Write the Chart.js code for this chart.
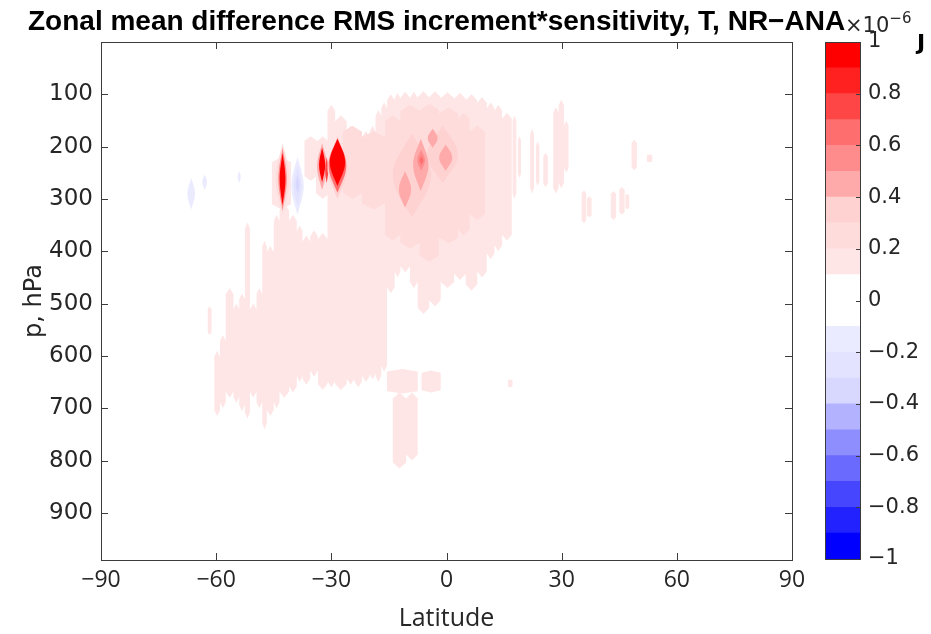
<!DOCTYPE html>
<html>
<head>
<meta charset="utf-8">
<script src="https://cdn.jsdelivr.net/npm/chart.js@4.4.1/dist/chart.umd.min.js"></script>
<style>
    body { margin: 0; background: #fff; }
    #wrap { position: relative; width: 931px; height: 634px; }
    canvas { position: absolute; top: 0; }
    #title { position: absolute; left: 28px; top: 5px; font: bold 28px "Liberation Sans", sans-serif; color: #000; white-space: nowrap; }
    #scale { position: absolute; left: 845px; top: 9px; font: 21px "DejaVu Sans", sans-serif; color: #262626; white-space: nowrap; }
    #scale sup { font-size: 15px; vertical-align: 9px; }
    #unit { position: absolute; left: 917px; top: 30px; font: bold 22px "DejaVu Sans", sans-serif; color: #000; }
</style>
</head>
<body>
<div id="wrap">
    <canvas id="main" width="931" height="634"></canvas>
    <canvas id="cbar" width="131" height="634" style="left:800px"></canvas>
    <div id="title">Zonal mean difference RMS increment*sensitivity, T, NR−ANA</div>
    <div id="scale">×10<sup>−6</sup></div>
    <div id="unit">J</div>
</div>
<script>
// axis ticks
const latTicks = [-90, -60, -30, 0, 30, 60, 90];
const presTicks = [100, 200, 300, 400, 500, 600, 700, 800, 900];
const cbTicks = [-1, -0.8, -0.6, -0.4, -0.2, 0, 0.2, 0.4, 0.6, 0.8, 1];

// contour level colours (lower edge 0, 0.1 ... 0.9 and 0, -0.1 ... -0.9)
const posColors = ['#ffffff', '#ffe6e6', '#ffdcdc', '#ffd2d2', '#ffaaaa', '#ff8c8c', '#ff6e6e', '#ff4646', '#ff2020', '#ff0000'];
const negColors = ['#ffffff', '#ebebff', '#e3e3ff', '#d8d8ff', '#b2b2ff', '#8e8eff', '#6a6aff', '#4646ff', '#2222ff', '#0000ff'];
const cbLower = [-1, -0.9, -0.8, -0.7, -0.6, -0.5, -0.4, -0.3, -0.2, -0.1, 0, 0.1, 0.2, 0.3, 0.4, 0.5, 0.6, 0.7, 0.8, 0.9];

// weak field, read as vertical streaks: latitude span, pressure span (hPa), value (1e-6 J)
const bandLat0 = [
    -62.2, -60.5, -59.0, -57.5, -55.5, -54.0, -52.5, -51.2, -49.5, -48.0, -46.8, -45.0, -43.5, -41.0, -39.0, -37.5, -35.5, -33.5,
    -45.5, -37.0, -34.0,
    -31.0, -29.0, -26.0, -24.0, -22.0, -20.0, -18.5, -17.0, -15.5, -13.5, -12.0, -9.5, -7.5, -4.5, -1.5, 2.0, 5.0, 8.0, 10.5, 12.5, 14.5,
    -15.5, -6.5, -14.0, -10.5, 16.0,
    17.2, 18.6, 21.8, 23.3, 25.2, 27.8, 29.2, 30.6, 35.2, 36.6, 42.8, 45.0, 46.6, 48.2, 52.2,
    -27.0, -22.0, -16.0, -12.0, -7.0, -2.0, 3.0, 6.0
];
const bandLat1 = [
    -61.2, -59.0, -57.5, -55.5, -54.0, -52.5, -51.2, -49.5, -48.0, -46.8, -45.0, -43.5, -41.0, -39.0, -37.5, -35.5, -33.5, -31.0,
    -40.5, -33.8, -30.5,
    -29.0, -26.0, -24.0, -22.0, -20.0, -18.5, -17.0, -15.5, -13.5, -12.0, -9.5, -7.5, -4.5, -1.5, 2.0, 5.0, 8.0, 10.5, 12.5, 14.5, 17.0,
    -7.5, -1.5, -10.5, -7.5, 17.2,
    18.2, 19.4, 22.8, 24.2, 26.4, 29.2, 30.6, 31.8, 36.4, 37.8, 44.2, 46.4, 47.6, 49.6, 53.6,
    -22.0, -16.0, -12.0, -7.0, -2.0, 3.0, 6.0, 10.0
];
const bandPTop = [
    505, 590, 560, 470, 500, 480, 345, 500, 470, 380, 390, 330, 310, 330, 350, 370, 360, 365,
    220, 180, 180,
    120, 140, 160, 170, 170, 160, 130, 115, 100, 97, 95, 95, 94, 94, 96, 97, 100, 105, 115, 120, 135,
    625, 628, 670, 670, 645,
    140, 180, 165, 190, 212, 124, 110, 150, 283, 295, 285, 277, 290, 187, 215,
    160, 170, 140, 120, 118, 125, 135, 160
];
const bandPBot = [
    560, 715, 700, 680, 690, 705, 720, 680, 700, 740, 715, 700, 680, 670, 650, 655, 640, 665,
    320, 265, 300,
    660, 665, 655, 660, 650, 645, 650, 630, 480, 450, 440, 470, 520, 505, 470, 455, 475, 450, 415, 400, 380,
    672, 670, 815, 800, 660,
    300, 260, 290, 275, 277, 290, 280, 250, 347, 335, 340, 330, 320, 245, 230,
    300, 320, 380, 395, 420, 385, 370, 340
];
const bandVal = [
    0.15, 0.15, 0.15, 0.15, 0.15, 0.15, 0.15, 0.15, 0.15, 0.15, 0.15, 0.15, 0.15, 0.15, 0.15, 0.15, 0.15, 0.15,
    0.15, 0.15, 0.15,
    0.15, 0.15, 0.15, 0.15, 0.15, 0.15, 0.15, 0.15, 0.15, 0.15, 0.15, 0.15, 0.15, 0.15, 0.15, 0.15, 0.15, 0.15, 0.15, 0.15, 0.15,
    0.15, 0.15, 0.15, 0.15, 0.15,
    0.15, 0.15, 0.15, 0.15, 0.15, 0.15, 0.15, 0.15, 0.15, 0.15, 0.15, 0.15, 0.15, 0.15, 0.15,
    0.25, 0.25, 0.25, 0.25, 0.25, 0.25, 0.25, 0.25
];

// stronger cells: centre latitude, centre pressure, half widths, value (1e-6 J)
const blobLat = [-9.0, -1.0, -10.8, -6.7, -3.6, -0.2, -6.6, -6.5, -42.7, -42.7, -42.7, -38.8, -38.8, -38.8, -32.4, -32.4, -31.2, -28.4, -28.4, -28.4, -66.5, -63.0, -54.0];
const blobP = [255, 215, 282, 235, 184, 221, 226, 226, 262, 262, 262, 275, 275, 272, 238, 235, 245, 240, 236, 230, 290, 268, 258];
const blobHalfLat = [5.0, 4.0, 1.6, 2.0, 1.3, 1.7, 1.0, 0.5, 1.8, 1.1, 0.75, 1.6, 1.0, 0.5, 1.3, 0.8, 0.4, 2.6, 2.3, 2.0, 1.0, 0.6, 0.4];
const blobHalfP = [80, 55, 35, 50, 18, 25, 20, 8, 68, 60, 50, 55, 38, 18, 45, 33, 25, 60, 52, 45, 30, 15, 12];
const blobVal = [0.35, 0.35, 0.45, 0.45, 0.45, 0.45, 0.55, 0.65, 0.25, 0.55, 0.95, -0.15, -0.25, -0.35, 0.45, 0.95, 0.75, 0.35, 0.65, 0.95, -0.15, -0.15, -0.15];

const tickColor = '#262626';
const frameColor = '#3c3c3c';

function levelColor(v) {
    const idx = Math.min(9, Math.floor(Math.abs(v) * 10 + 1e-9));
    return v >= 0 ? posColors[idx] : negColors[idx];
}

function fmt(v) {
    const r = Math.round(v * 10) / 10;
    return String(r).replace('-', '\u2212');
}

const contourPlugin = {
    id: 'contour',
    beforeDatasetsDraw(chart) {
        const { ctx, chartArea: a, scales: { x, y } } = chart;
        ctx.save();
        ctx.beginPath();
        ctx.rect(a.left, a.top, a.right - a.left, a.bottom - a.top);
        ctx.clip();
        // streaks, one path per level so neighbours join without seams
        const levels = [...new Set(bandVal)].sort((p, q) => p - q);
        levels.forEach(lv => {
            ctx.beginPath();
            bandVal.forEach((v, i) => {
                if (v !== lv) return;
                const x0 = x.getPixelForValue(bandLat0[i]);
                const x1 = x.getPixelForValue(bandLat1[i]);
                const y0 = y.getPixelForValue(bandPTop[i]);
                const y1 = y.getPixelForValue(bandPBot[i]);
                const xm = (x0 + x1) / 2;
                const t = Math.min(6, (y1 - y0) * 0.1);
                ctx.moveTo(x0, y0 + t);
                ctx.lineTo(xm, y0);
                ctx.lineTo(x1, y0 + t);
                ctx.lineTo(x1, y1 - t);
                ctx.lineTo(xm, y1);
                ctx.lineTo(x0, y1 - t);
                ctx.closePath();
            });
            ctx.fillStyle = levelColor(lv);
            ctx.fill('nonzero');
        });
        // lens shaped cells
        blobVal.forEach((v, i) => {
            const cx = x.getPixelForValue(blobLat[i]);
            const cy = y.getPixelForValue(blobP[i]);
            const rx = Math.abs(x.getPixelForValue(blobLat[i] + blobHalfLat[i]) - cx);
            const ry = Math.abs(y.getPixelForValue(blobP[i] + blobHalfP[i]) - cy);
            ctx.fillStyle = levelColor(v);
            ctx.beginPath();
            ctx.moveTo(cx, cy - ry);
            ctx.bezierCurveTo(cx + rx * 0.5, cy - ry * 0.6, cx + rx, cy - ry * 0.35, cx + rx, cy);
            ctx.bezierCurveTo(cx + rx, cy + ry * 0.35, cx + rx * 0.5, cy + ry * 0.6, cx, cy + ry);
            ctx.bezierCurveTo(cx - rx * 0.5, cy + ry * 0.6, cx - rx, cy + ry * 0.35, cx - rx, cy);
            ctx.bezierCurveTo(cx - rx, cy - ry * 0.35, cx - rx * 0.5, cy - ry * 0.6, cx, cy - ry);
            ctx.fill();
        });
        ctx.restore();
    }
};

// box with inward ticks, matlab style
const framePlugin = {
    id: 'frame',
    afterDraw(chart) {
        const { ctx, chartArea: a, scales: { x, y } } = chart;
        ctx.save();
        ctx.strokeStyle = frameColor;
        ctx.lineWidth = 1;
        ctx.strokeRect(Math.round(a.left) + 0.5, Math.round(a.top) + 0.5, Math.round(a.right - a.left), Math.round(a.bottom - a.top));
        ctx.beginPath();
        latTicks.forEach(v => {
            const px = Math.round(x.getPixelForValue(v)) + 0.5;
            ctx.moveTo(px, a.bottom); ctx.lineTo(px, a.bottom - 7);
            ctx.moveTo(px, a.top); ctx.lineTo(px, a.top + 7);
        });
        presTicks.forEach(v => {
            const py = Math.round(y.getPixelForValue(v)) + 0.5;
            ctx.moveTo(a.left, py); ctx.lineTo(a.left + 7, py);
            ctx.moveTo(a.right, py); ctx.lineTo(a.right - 7, py);
        });
        ctx.stroke();
        ctx.restore();
    }
};

new Chart(document.getElementById('main'), {
    type: 'scatter',
    data: { datasets: [] },
    options: {
        responsive: false,
        animation: false,
        layout: { padding: { left: 0, right: 139, top: 42, bottom: 0 } },
        plugins: { legend: { display: false }, tooltip: { enabled: false } },
        scales: {
            x: {
                type: 'linear', min: -90, max: 90,
                afterBuildTicks: s => { s.ticks = latTicks.map(v => ({ value: v })); },
                afterFit: s => { s.height = 74; },
                grid: { display: false, drawTicks: false },
                border: { display: false },
                ticks: { color: tickColor, padding: 7, maxRotation: 0, font: { family: 'Open Sans', size: 23 }, callback: v => fmt(v) },
                title: { display: true, text: 'Latitude', color: tickColor, padding: { top: 0, bottom: 0 }, font: { family: 'Open Sans', size: 25 } }
            },
            y: {
                type: 'linear', reverse: true, min: 0, max: 990,
                afterBuildTicks: s => { s.ticks = presTicks.map(v => ({ value: v })); },
                afterFit: s => { s.width = 101; },
                grid: { display: false, drawTicks: false },
                border: { display: false },
                ticks: { color: tickColor, padding: 8, font: { family: 'DejaVu Sans', size: 23 } },
                title: { display: true, text: 'p, hPa', color: tickColor, padding: { top: 20, bottom: 0 }, font: { family: 'DejaVu Sans', size: 24 } }
            }
        }
    },
    plugins: [contourPlugin, framePlugin]
});

// colour bar
const cbFrame = {
    id: 'cbFrame',
    afterDraw(chart) {
        const { ctx, chartArea: a, scales: { y } } = chart;
        ctx.save();
        ctx.strokeStyle = frameColor;
        ctx.lineWidth = 1;
        ctx.strokeRect(Math.round(a.left) + 0.5, Math.round(a.top) + 0.5, Math.round(a.right - a.left), Math.round(a.bottom - a.top));
        ctx.beginPath();
        cbTicks.forEach(v => {
            const py = Math.round(y.getPixelForValue(v)) + 0.5;
            ctx.moveTo(a.right, py); ctx.lineTo(a.right - 4, py);
        });
        ctx.stroke();
        ctx.restore();
    }
};

new Chart(document.getElementById('cbar'), {
    type: 'bar',
    data: {
        labels: [''],
        datasets: cbLower.map(lo => ({
            data: [[lo, lo + 0.1]],
            backgroundColor: levelColor(lo + 0.05),
            borderWidth: 0,
            barPercentage: 1,
            categoryPercentage: 1
        }))
    },
    options: {
        responsive: false,
        animation: false,
        layout: { padding: { left: 25, right: 0, top: 42, bottom: 75 } },
        plugins: { legend: { display: false }, tooltip: { enabled: false } },
        scales: {
            x: { display: false, stacked: true },
            y: {
                position: 'right', min: -1, max: 1,
                afterBuildTicks: s => { s.ticks = cbTicks.map(v => ({ value: v })); },
                afterFit: s => { s.width = 71; },
                grid: { display: false, drawTicks: false },
                border: { display: false },
                ticks: { color: tickColor, padding: 8, font: { family: 'DejaVu Sans', size: 21 }, callback: v => fmt(v) }
            }
        }
    },
    plugins: [cbFrame]
});
</script>
</body>
</html>
